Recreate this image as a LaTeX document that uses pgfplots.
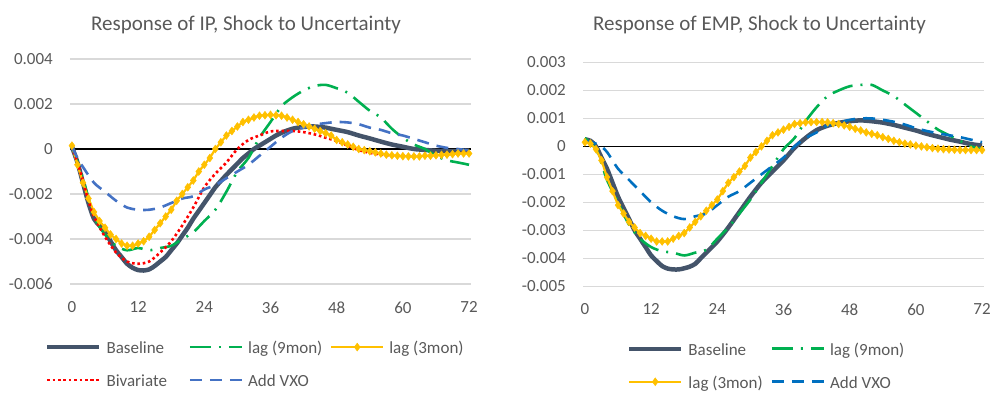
\documentclass[border=0pt]{standalone}
\usepackage{pgfplots}
\pgfplotsset{compat=1.18}
\usepackage{fontspec}
\setmainfont{Carlito}
\definecolor{cbase}{HTML}{44546A}
\definecolor{cgreen}{HTML}{00B050}
\definecolor{cyellow}{HTML}{FFC000}
\definecolor{cred}{HTML}{FF0000}
\definecolor{cblueL}{HTML}{4472C4}
\definecolor{cblueR}{HTML}{0070C0}
\definecolor{gridgray}{HTML}{D9D9D9}
\definecolor{txtgray}{HTML}{595959}
\pgfplotsset{
  myaxis/.style={
    scale only axis, width=401pt,
    xmin=-0.35, xmax=72.35,
    xtick={0,12,24,36,48,60,72},
    xticklabels={0,12,24,36,48,60,72},
    scaled y ticks=false,
    axis line style={draw=none},
    major tick length=0pt,
    ymajorgrids, grid style={draw=gridgray, line width=1.2pt},
    extra y ticks={0}, extra y tick labels={},
    extra y tick style={grid style={draw=black, line width=1.2pt}},
    tick label style={font=\fontsize{17}{20}\selectfont, text=txtgray, inner sep=0pt},
    yticklabel style={xshift=-17pt},
    xticklabel style={yshift=-17.5pt},
    clip=false,
    legend cell align=left,
    legend image code/.code={\draw[mark repeat=2,mark phase=2] plot coordinates {(0pt,0pt) (26pt,0pt) (52pt,0pt)};},
  },
  base/.style={cbase, line width=4.5pt, smooth, no markers},
  gr/.style={cgreen, line width=2.6pt, smooth, no markers, dash pattern=on 21pt off 8pt on 2pt off 8pt},
  ye/.style={cyellow, line width=2.2pt, mark=diamond*, mark size=3.9pt, mark options={solid, fill=cyellow, draw=cyellow, line width=0.5pt}},
  rd/.style={cred, line width=2.6pt, smooth, no markers, dash pattern=on 2.6pt off 2.8pt},
  bl/.style={line width=2.6pt, smooth, no markers, dash pattern=on 12pt off 8pt},
}
\begin{document}
\begin{tikzpicture}[x=1pt,y=1pt]
\path[use as bounding box] (0,0) rectangle (995,-394);

% ---------------- Left chart ----------------
\begin{axis}[myaxis,
  at={(70pt,-284pt)}, anchor=south west, height=225pt,
  ymin=-0.006, ymax=0.004,
  ytick={-0.006,-0.004,-0.002,0,0.002,0.004},
  yticklabels={-0.006,-0.004,-0.002,0,0.002,0.004},
  legend columns=3,
  legend style={at={(-0.0623,-0.2458)}, anchor=north west, draw=none, fill=none,
    inner sep=0pt, outer sep=0pt, row sep=17.5pt,
    font=\fontsize{17}{20}\selectfont, text=txtgray, nodes={inner sep=0pt},
    /tikz/every odd column/.append style={column sep=5pt}},
]
\addplot[base] coordinates {
(0,0.0001)(1,-0.0006)(2,-0.0015)(3,-0.0024)(4,-0.0031)(5,-0.0034)(6,-0.0037)(7,-0.0041)(8,-0.0045)(9,-0.0048)(10,-0.0051)(11,-0.00528)(12,-0.00538)(13,-0.0054)(14,-0.00535)(15,-0.0052)(16,-0.005)(17,-0.0048)(18,-0.0045)(19,-0.0042)(20,-0.00385)(21,-0.0035)(22,-0.0031)(23,-0.00275)(24,-0.0024)(25,-0.00205)(26,-0.0017)(27,-0.00142)(28,-0.00115)(29,-0.0009)(30,-0.00065)(31,-0.0004)(32,-0.0002)(33,0.0)(34,0.00015)(35,0.0003)(36,0.00045)(37,0.0006)(38,0.00072)(39,0.00082)(40,0.0009)(41,0.00095)(42,0.00098)(43,0.001)(44,0.001)(45,0.00098)(46,0.00095)(47,0.0009)(48,0.00085)(50,0.00075)(52,0.0006)(54,0.00047)(56,0.00033)(58,0.0002)(60,0.0001)(62,0.0)(64,-0.00004)(66,-0.00008)(68,-0.0001)(70,-0.00009)(72,-0.00007)};
\addlegendentry{\makebox[82pt][l]{\strut Baseline}}
\addplot[gr] coordinates {
(0,0.0001)(2,-0.0013)(4,-0.003)(6,-0.0038)(8,-0.0043)(10,-0.0045)(12,-0.0044)(14,-0.0045)(16,-0.0044)(18,-0.0043)(20,-0.0040)(22,-0.0037)(24,-0.0032)(26,-0.0027)(28,-0.0019)(30,-0.0010)(32,-0.0004)(34,0.0005)(36,0.0012)(38,0.0019)(40,0.0023)(42,0.0026)(44,0.0028)(46,0.00285)(48,0.0027)(50,0.0025)(52,0.0021)(54,0.0017)(56,0.0014)(58,0.0009)(60,0.0005)(62,0.0002)(64,0.0)(66,-0.0003)(68,-0.0005)(70,-0.0006)(72,-0.0007)};
\addlegendentry{\makebox[82pt][l]{\strut lag (9mon)}}
\addplot[ye] coordinates {
(0,0.00015)(1,-0.0007)(2,-0.0015)(3,-0.0022)(4,-0.0028)(5,-0.0032)(6,-0.0035)(7,-0.0038)(8,-0.004)(9,-0.0042)(10,-0.0043)(11,-0.0043)(12,-0.0042)(13,-0.0041)(14,-0.0039)(15,-0.0036)(16,-0.0033)(17,-0.003)(18,-0.0027)(19,-0.0023)(20,-0.002)(21,-0.0017)(22,-0.0014)(23,-0.001)(24,-0.0007)(25,-0.0004)(26,0.0)(27,0.0003)(28,0.0006)(29,0.0008)(30,0.001)(31,0.0012)(32,0.0013)(33,0.0014)(34,0.00148)(35,0.0015)(36,0.00152)(37,0.0015)(38,0.00148)(39,0.0014)(40,0.0013)(41,0.0012)(42,0.0011)(43,0.001)(44,0.0009)(45,0.0008)(46,0.0007)(47,0.0006)(48,0.0004)(49,0.0003)(50,0.0002)(51,0.0001)(52,0.0)(53,-0.00005)(54,-0.0001)(55,-0.00015)(56,-0.0002)(57,-0.00025)(58,-0.00028)(59,-0.0003)(60,-0.00032)(61,-0.00033)(62,-0.00033)(63,-0.00033)(64,-0.0003)(65,-0.0003)(66,-0.00028)(67,-0.00026)(68,-0.00025)(69,-0.00023)(70,-0.0002)(71,-0.0002)(72,-0.0002)};
\addlegendentry{\strut lag (3mon)}
\addplot[rd] coordinates {
(0,0.0001)(1,-0.0006)(2,-0.0014)(3,-0.0023)(4,-0.003)(6,-0.0039)(8,-0.0046)(10,-0.005)(12,-0.0051)(14,-0.005)(16,-0.0046)(18,-0.0041)(20,-0.0034)(22,-0.0026)(24,-0.0017)(26,-0.0011)(28,-0.0006)(30,0.0)(32,0.0004)(34,0.0006)(36,0.00078)(38,0.0008)(40,0.0008)(42,0.00075)(44,0.00065)(46,0.0005)(48,0.00035)(50,0.00015)(52,-0.00005)(54,-0.00017)(56,-0.00025)(58,-0.0003)(60,-0.0003)(62,-0.0003)(64,-0.0003)(66,-0.00025)(68,-0.0002)(70,-0.00018)(72,-0.00015)};
\addlegendentry{\makebox[82pt][l]{\strut Bivariate}}
\addplot[bl, cblueL] coordinates {
(0,0.0001)(1,-0.0004)(2,-0.0008)(4,-0.0015)(6,-0.0019)(8,-0.0023)(10,-0.0026)(12,-0.0027)(14,-0.0027)(16,-0.0026)(18,-0.0024)(20,-0.0022)(22,-0.0021)(24,-0.0018)(26,-0.0016)(28,-0.0013)(30,-0.001)(32,-0.0007)(34,-0.0003)(36,0.0001)(38,0.0005)(40,0.0008)(42,0.00095)(44,0.00108)(46,0.00115)(48,0.0012)(50,0.00118)(52,0.0011)(54,0.00095)(56,0.00085)(58,0.0007)(60,0.0006)(62,0.00045)(64,0.0003)(66,0.00015)(68,0.00005)(70,0.0)(72,-0.00007)};
\addlegendentry{\strut Add VXO}
\end{axis}

% ---------------- Right chart ----------------
\begin{axis}[myaxis,
  at={(583pt,-286.2pt)}, anchor=south west, height=223.7pt,
  ymin=-0.005, ymax=0.003,
  ytick={-0.005,-0.004,-0.003,-0.002,-0.001,0,0.001,0.002,0.003},
  yticklabels={-0.005,-0.004,-0.003,-0.002,-0.001,0,0.001,0.002,0.003},
  legend columns=2,
  legend style={at={(0.1097,-0.245)}, anchor=north west, draw=none, fill=none,
    inner sep=0pt, outer sep=0pt, row sep=17.5pt,
    font=\fontsize{17}{20}\selectfont, text=txtgray, nodes={inner sep=0pt},
    /tikz/every odd column/.append style={column sep=5pt}},
]
\addplot[base] coordinates {
(0,0.00025)(1,0.0002)(2,0.0)(3,-0.0004)(4,-0.0008)(5,-0.0013)(6,-0.0018)(7,-0.0022)(8,-0.0026)(9,-0.003)(10,-0.0033)(11,-0.0036)(12,-0.0039)(13,-0.0041)(14,-0.00428)(15,-0.00437)(16,-0.0044)(17,-0.0044)(18,-0.00436)(19,-0.0043)(20,-0.0042)(21,-0.004)(22,-0.0038)(24,-0.0034)(26,-0.0029)(28,-0.00235)(30,-0.0018)(32,-0.0013)(34,-0.0009)(36,-0.0005)(38,-0.00005)(40,0.0003)(42,0.00058)(44,0.00074)(46,0.00084)(48,0.0009)(50,0.00093)(52,0.0009)(54,0.00085)(56,0.00077)(58,0.00067)(60,0.00057)(62,0.00045)(64,0.00035)(66,0.00025)(68,0.00017)(70,0.00008)(72,0.00003)};
\addlegendentry{\makebox[82pt][l]{\strut Baseline}}
\addplot[gr] coordinates {
(0,0.0003)(2,-0.0001)(3,-0.0006)(4,-0.0012)(6,-0.002)(8,-0.0028)(10,-0.0033)(12,-0.0036)(14,-0.00375)(16,-0.0038)(18,-0.0039)(20,-0.0038)(22,-0.0037)(24,-0.0033)(26,-0.0029)(28,-0.0024)(30,-0.0019)(32,-0.0013)(34,-0.0007)(36,-0.0001)(38,0.0003)(40,0.0009)(42,0.0014)(44,0.0018)(46,0.002)(48,0.00215)(50,0.0022)(52,0.0022)(54,0.002)(56,0.0018)(58,0.0015)(60,0.0012)(62,0.0009)(64,0.0006)(66,0.0004)(68,0.0002)(70,0.0)(72,-0.0001)};
\addlegendentry{\strut lag (9mon)}
\addplot[ye] coordinates {
(0,0.00015)(1,0.0001)(2,-0.0001)(3,-0.0005)(4,-0.0011)(5,-0.0016)(6,-0.0021)(7,-0.0024)(8,-0.0027)(9,-0.0029)(10,-0.0031)(11,-0.0032)(12,-0.0033)(13,-0.0034)(14,-0.0034)(15,-0.0034)(16,-0.0033)(17,-0.0032)(18,-0.0031)(19,-0.0029)(20,-0.0027)(21,-0.0025)(22,-0.0023)(23,-0.0021)(24,-0.0019)(25,-0.0016)(26,-0.0013)(27,-0.0011)(28,-0.0009)(29,-0.0007)(30,-0.0004)(31,-0.0002)(32,0.0)(33,0.0002)(34,0.0004)(35,0.0005)(36,0.0006)(37,0.0007)(38,0.0008)(39,0.00083)(40,0.00086)(41,0.00087)(42,0.00087)(43,0.00087)(44,0.00086)(45,0.00083)(46,0.0008)(47,0.00075)(48,0.0007)(49,0.00063)(50,0.00057)(51,0.0005)(52,0.00045)(53,0.0004)(54,0.00033)(55,0.00027)(56,0.0002)(57,0.00015)(58,0.0001)(59,0.00007)(60,0.00003)(61,0.0)(62,-0.00003)(63,-0.00006)(64,-0.00008)(65,-0.0001)(66,-0.00011)(67,-0.00012)(68,-0.00013)(69,-0.00013)(70,-0.00013)(71,-0.00013)(72,-0.00013)};
\addlegendentry{\makebox[82pt][l]{\strut lag (3mon)}}
\addplot[bl, cblueR] coordinates {
(0,0.0002)(2,0.0001)(3,0.0)(4,-0.0002)(5,-0.0005)(6,-0.0008)(8,-0.0012)(10,-0.0016)(12,-0.002)(14,-0.0023)(16,-0.0025)(18,-0.0026)(20,-0.0025)(22,-0.0024)(24,-0.0021)(26,-0.0018)(28,-0.0016)(30,-0.0013)(32,-0.001)(34,-0.0007)(36,-0.0004)(38,0.0)(40,0.0003)(42,0.0005)(44,0.00075)(46,0.00085)(48,0.00095)(50,0.001)(52,0.001)(54,0.00095)(56,0.00088)(58,0.00078)(60,0.00065)(62,0.00055)(64,0.00047)(66,0.0004)(68,0.00033)(70,0.00024)(72,0.00015)};
\addlegendentry{\strut Add VXO}
\end{axis}

\node[anchor=base, text=txtgray, font=\fontsize{21}{24}\selectfont] at (246,-30) {Response of IP, Shock to Uncertainty};
\node[anchor=base, text=txtgray, font=\fontsize{21}{24}\selectfont] at (759.5,-30) {Response of EMP, Shock to Uncertainty};
\end{tikzpicture}
\end{document}
